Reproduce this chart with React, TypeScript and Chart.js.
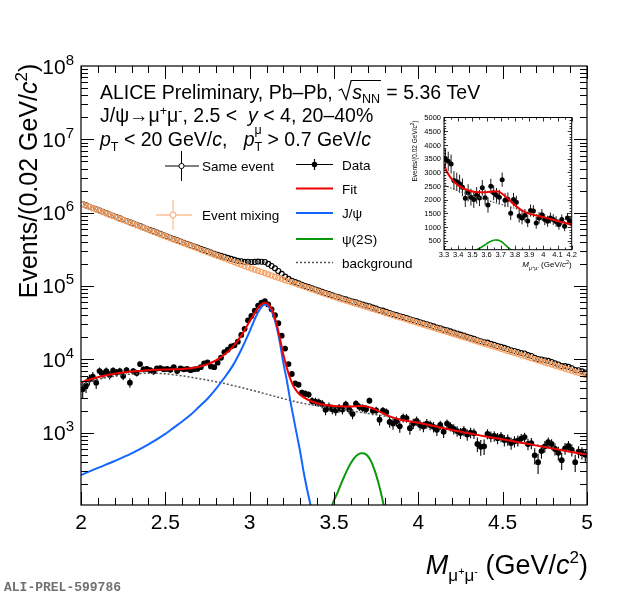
import React, { useEffect, useRef } from "react";
import { Chart, registerables } from "chart.js";

Chart.register(...registerables);

const FONT = "'Liberation Sans', Arimo, Arial, Helvetica, sans-serif";
const MONO = "'Liberation Mono', 'DejaVu Sans Mono', monospace";

// ---------------- binning ----------------
const BIN_LOW = 2.0;
const BIN_WIDTH = 0.02;

// ---------------- main-panel data (150 bins, 2.00–5.00 GeV/c^2) ----------------
const SAME_EVENT = [
  1307000, 1255000, 1205000, 1158000, 1110000, 1067000, 1024000, 984000, 943000, 906000,
  870000, 835000, 801000, 770000, 737000, 709000, 681000, 656000, 628000, 603000,
  578000, 555000, 534000, 513000, 492000, 472000, 454000, 438000, 420000, 405000,
  389000, 374000, 360000, 346000, 333000, 321000, 310000, 298000, 286000, 275000,
  266000, 258000, 250000, 242000, 234000, 227000, 220000, 217000, 213000, 214000,
  212000, 213000, 215000, 214000, 212000, 200000, 187000, 174000, 160000, 146000,
  134000, 125000, 118000, 113000, 108500, 104000, 100000, 96600, 92700, 89500,
  86300, 83200, 79900, 77300, 74400, 71900, 69800, 67500, 65700, 63400,
  61100, 59900, 57800, 55900, 54100, 53000, 50700, 49100, 47100, 46100,
  44500, 42700, 41200, 40000, 38600, 37800, 36600, 35100, 34100, 33200,
  32000, 30900, 30000, 29100, 28100, 27100, 26500, 25400, 24900, 24000,
  23200, 22500, 21700, 21100, 20300, 19700, 19100, 18200, 17600, 17100,
  16900, 16300, 15800, 15200, 14800, 14300, 13800, 13300, 13000, 12600,
  12200, 12000, 11400, 11100, 10500, 10100, 9940, 9720, 9520, 9200,
  8820, 8490, 8120, 8060, 7870, 7550, 7150, 7080, 6850, 6610,
];

const MIXED_EVENT = [
  1303000, 1251000, 1200000, 1152000, 1105000, 1060000, 1018000, 977000, 937000, 899000,
  863000, 828000, 795000, 763000, 732000, 702000, 674000, 647000, 621000, 596000,
  571000, 548000, 526000, 505000, 485000, 465000, 447000, 430000, 413000, 397000,
  382000, 367000, 353000, 339000, 326000, 313000, 301000, 289000, 278000, 267000,
  257000, 247000, 237000, 228000, 219000, 211000, 203000, 195000, 187000, 180000,
  173000, 167000, 161000, 155000, 150000, 144000, 139000, 134000, 129000, 125000,
  120000, 116000, 112000, 108000, 104000, 100400, 96800, 93300, 90000, 86800,
  83700, 80700, 77800, 75000, 72300, 69900, 67600, 65400, 63300, 61300,
  59300, 57400, 55500, 53700, 52000, 50300, 48700, 47100, 45600, 44100,
  42600, 41300, 39900, 38600, 37400, 36200, 35000, 33900, 32800, 31700,
  30700, 29700, 28700, 27800, 26900, 26000, 25200, 24400, 23600, 22800,
  22100, 21400, 20700, 20000, 19400, 18700, 18100, 17500, 17000, 16400,
  15900, 15400, 14900, 14400, 13900, 13500, 13000, 12600, 12200, 11800,
  11400, 11100, 10700, 10350, 10000, 9690, 9380, 9070, 8780, 8500,
  8220, 7960, 7700, 7450, 7210, 6970, 6750, 6530, 6320, 6110,
];

const DATA_SIGNAL = [
  3900, 4400, 5300, 5800, 4800, 6900, 6300, 6900, 6100, 7000,
  6600, 6900, 5900, 7100, 4800, 6900, 6500, 8600, 7300, 7400,
  7100, 6800, 7500, 7600, 7300, 7400, 7200, 7800, 6900, 7500,
  7300, 7400, 7100, 7300, 7400, 7800, 8800, 9100, 8000, 7800,
  9000, 10500, 12500, 13500, 15000, 15500, 17400, 21500, 26000, 34000,
  39000, 46000, 54000, 59000, 62000, 56000, 48000, 40000, 31000, 21000,
  14000, 8600, 6300, 4700, 4500, 3500, 3400, 3300, 2700, 2650,
  2580, 2450, 2050, 2250, 2090, 2000, 2160, 2060, 2430, 2070,
  1800, 2490, 2250, 2160, 2090, 2730, 1980, 2010, 1500, 2000,
  1900, 1400, 1330, 1430, 1220, 1600, 1580, 1150, 1330, 1450,
  1270, 1210, 1330, 1270, 1200, 1090, 1270, 1030, 1330, 1210,
  1120, 1050, 990, 1060, 940, 1000, 980, 700, 640, 650,
  960, 890, 900, 840, 880, 790, 800, 720, 760, 780,
  830, 870, 700, 720, 490, 395, 560, 650, 740, 700,
  600, 530, 420, 610, 660, 580, 395, 550, 530, 500,
];

const DATA_ERR = [
  950, 930, 910, 890, 870, 850, 830, 810, 800, 780,
  770, 750, 740, 720, 710, 700, 690, 680, 660, 650,
  640, 630, 620, 610, 600, 590, 580, 570, 560, 550,
  540, 530, 525, 515, 510, 500, 495, 490, 480, 475,
  470, 465, 460, 460, 455, 455, 450, 455, 460, 470,
  475, 480, 490, 490, 490, 480, 470, 455, 440, 420,
  400, 390, 380, 370, 360, 355, 350, 345, 340, 335,
  330, 325, 320, 315, 310, 305, 300, 295, 290, 285,
  280, 275, 272, 268, 264, 260, 256, 252, 248, 244,
  240, 236, 232, 228, 225, 222, 218, 215, 212, 208,
  205, 202, 199, 196, 193, 190, 187, 184, 181, 178,
  176, 173, 170, 168, 165, 163, 160, 158, 156, 153,
  151, 149, 147, 145, 143, 141, 139, 137, 135, 133,
  131, 129, 127, 125, 124, 122, 120, 118, 117, 115,
  113, 112, 110, 109, 107, 106, 104, 103, 101, 100,
];

// ---------------- fit components ----------------
const FIT_X = [
  2.0, 2.05, 2.1, 2.15, 2.2, 2.25, 2.3, 2.35, 2.4, 2.45, 2.5, 2.55, 2.6, 2.65, 2.7, 2.75, 2.8, 2.85, 2.9, 2.95,
  3.0, 3.02, 3.04, 3.06, 3.08, 3.09, 3.1, 3.12, 3.14, 3.16, 3.18, 3.2, 3.22, 3.24, 3.26, 3.28, 3.3,
  3.35, 3.4, 3.45, 3.5, 3.55, 3.6, 3.65, 3.68, 3.7, 3.75, 3.8, 3.85, 3.9, 3.95, 4.0, 4.05, 4.1, 4.15, 4.2,
  4.3, 4.4, 4.5, 4.6, 4.7, 4.8, 4.9, 5.0,
];
const FIT_Y = [
  4850, 5300, 5700, 6050, 6350, 6600, 6800, 6950, 7080, 7180, 7250, 7300, 7380, 7550, 7900, 8600, 9700, 11600, 14800, 21000,
  33000, 39000, 46500, 54000, 58500, 59000, 58500, 53000, 43000, 30000, 19000, 11500, 7700, 5500, 4300, 3650, 3250,
  2780, 2520, 2380, 2300, 2270, 2270, 2300, 2300, 2250, 2040, 1790, 1600, 1490, 1420, 1360, 1290, 1220, 1150, 1085,
  980, 885, 810, 735, 665, 605, 550, 500,
];

const JPSI_X = [
  2.0, 2.1, 2.2, 2.3, 2.4, 2.5, 2.55, 2.6, 2.65, 2.7, 2.75, 2.8, 2.85, 2.9, 2.95,
  3.0, 3.02, 3.04, 3.06, 3.08, 3.09, 3.1, 3.12, 3.14, 3.16, 3.18, 3.2,
  3.22, 3.24, 3.26, 3.28, 3.3, 3.32, 3.34, 3.36, 3.38,
];
const JPSI_Y = [
  264, 330, 410, 520, 690, 960, 1170, 1420, 1750, 2250, 2900, 3950, 5600, 8200, 13500,
  24000, 31000, 39500, 48000, 54500, 56000, 55500, 50000, 40000, 27500, 16500, 8800,
  5200, 2800, 1600, 930, 540, 290, 170, 105, 62,
];

const PSI2S_X = [3.48, 3.5, 3.52, 3.54, 3.56, 3.58, 3.6, 3.62, 3.64, 3.66, 3.68, 3.7, 3.72, 3.74, 3.76, 3.78, 3.8];
const PSI2S_Y = [90, 120, 150, 195, 250, 315, 385, 450, 500, 525, 520, 480, 405, 310, 220, 145, 90];

const BKG_X = [
  2.0, 2.1, 2.2, 2.3, 2.4, 2.5, 2.6, 2.7, 2.8, 2.9, 3.0, 3.1, 3.2, 3.3, 3.4, 3.5,
  3.6, 3.7, 3.8, 3.9, 4.0, 4.1, 4.2, 4.3, 4.4, 4.5, 4.6, 4.7, 4.8, 4.9, 5.0,
];
const BKG_Y = [
  4500, 5300, 5900, 6300, 6450, 6350, 5950, 5450, 4950, 4400, 3850, 3350, 2900, 2550, 2320, 2150,
  1980, 1830, 1680, 1530, 1360, 1210, 1080, 980, 890, 810, 740, 680, 620, 560, 505,
];

// ---------------- axes ----------------
const X_MIN = 2, X_MAX = 5;
const Y_MIN = 103, Y_MAX = 1e8;
const X_TICK_LABELS = [2, 2.5, 3, 3.5, 4, 4.5, 5];
const Y_DECADES = [3, 4, 5, 6, 7, 8];

const IN_X_MIN = 3.3, IN_X_MAX = 4.2;
const IN_Y_MIN = 170, IN_Y_MAX = 5000;
const IN_X_LABELS = ["3.3", "3.4", "3.5", "3.6", "3.7", "3.8", "3.9", "4", "4.1", "4.2"];
const IN_Y_LABELS = [500, 1000, 1500, 2000, 2500, 3000, 3500, 4000, 4500, 5000];

// ---------------- colours ----------------
const RED = "#f00000";
const BLUE = "#1466ff";
const GREEN = "#0a990a";
const ORANGE = "rgb(245,160,98)";
const ORANGE_LEG = "rgba(247,172,118,0.75)";
const DOT = "#555555";

const binCenters = DATA_SIGNAL.map((_, i) => +(BIN_LOW + BIN_WIDTH * (i + 0.5)).toFixed(3));
const toPts = (xs: number[], ys: number[]) => xs.map((x, i) => ({ x, y: ys[i] }));

type Seg = { t: string; s?: number; it?: boolean; dy?: number; noAdv?: boolean };

function segFont(s: Seg, base: number) {
  return `${s.it ? "italic " : ""}${s.s ?? base}px ${FONT}`;
}

function drawRich(ctx: CanvasRenderingContext2D, x: number, y: number, segs: Seg[], base: number, align = "left") {
  const ws = segs.map((s) => {
    ctx.font = segFont(s, base);
    return s.noAdv ? 0 : ctx.measureText(s.t).width;
  });
  const total = ws.reduce((p, c) => p + c, 0);
  let cx = align === "left" ? x : align === "right" ? x - total : x - total / 2;
  ctx.textAlign = "left";
  ctx.textBaseline = "alphabetic";
  segs.forEach((s, i) => {
    ctx.font = segFont(s, base);
    ctx.fillText(s.t, cx, y + (s.dy || 0));
    cx += ws[i];
  });
  return cx;
}

function drawErrors(chart: any, lw: number) {
  const { ctx, chartArea: a } = chart;
  const xs = chart.scales.x, ys = chart.scales.y;
  ctx.save();
  ctx.beginPath();
  ctx.rect(a.left, a.top, a.right - a.left, a.bottom - a.top);
  ctx.clip();
  ctx.strokeStyle = "#000";
  ctx.lineWidth = lw;
  ctx.beginPath();
  binCenters.forEach((xc, i) => {
    const px = xs.getPixelForValue(xc);
    if (px < a.left - 4 || px > a.right + 4) return;
    const v = DATA_SIGNAL[i], e = DATA_ERR[i];
    const y1 = ys.getPixelForValue(v + e);
    const lo = v - e;
    const y2 = lo > 0 ? ys.getPixelForValue(lo) : a.bottom + 10;
    ctx.moveTo(px, y1);
    ctx.lineTo(px, y2);
  });
  ctx.stroke();
  ctx.restore();
}

const errorPlugin = (lw: number) => ({
  id: "errbars",
  beforeDatasetDraw(chart: any, args: any) {
    if (chart.data.datasets[args.index].label === "Data") drawErrors(chart, lw);
  },
});

function drawMainDecor(chart: any) {
  const { ctx, chartArea: a } = chart;
  const xs = chart.scales.x, ys = chart.scales.y;
  ctx.save();
  ctx.fillStyle = "#000";
  ctx.strokeStyle = "#000";

  // ticks
  ctx.lineWidth = 1;
  ctx.beginPath();
  for (let i = 0; i <= 30; i++) {
    const v = X_MIN + i * 0.1;
    const px = Math.round(xs.getPixelForValue(v)) + 0.5;
    const len = i % 5 === 0 ? 13 : 7;
    ctx.moveTo(px, a.bottom);
    ctx.lineTo(px, a.bottom - len);
    ctx.moveTo(px, a.top);
    ctx.lineTo(px, a.top + len);
  }
  for (let k = 2; k <= 7; k++) {
    for (let m = 1; m <= 9; m++) {
      const v = m * Math.pow(10, k);
      if (v < Y_MIN || v >= Y_MAX) continue;
      const py = Math.round(ys.getPixelForValue(v)) + 0.5;
      const len = m === 1 ? 13 : 7;
      ctx.moveTo(a.left, py);
      ctx.lineTo(a.left + len, py);
      ctx.moveTo(a.right, py);
      ctx.lineTo(a.right - len, py);
    }
  }
  ctx.stroke();
  ctx.lineWidth = 1.2;
  ctx.strokeRect(a.left, a.top, a.right - a.left, a.bottom - a.top);

  // x tick labels
  ctx.font = `21px ${FONT}`;
  ctx.textAlign = "center";
  ctx.textBaseline = "alphabetic";
  X_TICK_LABELS.forEach((v) => ctx.fillText(String(v), xs.getPixelForValue(v), 529));

  // y tick labels
  Y_DECADES.forEach((k) => {
    const py = ys.getPixelForValue(Math.pow(10, k));
    drawRich(ctx, 74, py + 7.5, [{ t: "10" }, { t: String(k), s: 15, dy: -9 }], 21, "right");
  });

  // axis titles
  drawRich(
    ctx, 588, 574,
    [
      { t: "M", it: true },
      { t: "μ", s: 17, dy: 7 },
      { t: "+", s: 11, dy: 1 },
      { t: "μ", s: 17, dy: 7 },
      { t: "-", s: 11, dy: 1 },
      { t: " (GeV/" },
      { t: "c", it: true },
      { t: "2", s: 17, dy: -11 },
      { t: ")" },
    ],
    27, "right"
  );
  ctx.save();
  ctx.translate(37, 181);
  ctx.rotate(-Math.PI / 2);
  drawRich(ctx, 0, 0, [{ t: "Events/(0.02 GeV/" }, { t: "c", it: true }, { t: "2", s: 17, dy: -10 }, { t: ")" }], 25, "center");
  ctx.restore();

  // header text
  const e1 = drawRich(ctx, 100, 98.5, [{ t: "ALICE Preliminary, Pb–Pb," }], 19.5);
  const x0 = e1 + 6;
  const sx = x0 + 13.5;
  const e2 = drawRich(ctx, sx, 98.5, [{ t: "s", it: true }, { t: "NN", s: 12.5, dy: 4.5 }], 19.5);
  ctx.lineWidth = 1.2;
  ctx.beginPath();
  ctx.moveTo(x0, 90.5);
  ctx.lineTo(x0 + 3, 89);
  ctx.lineTo(x0 + 7.5, 99.5);
  ctx.lineTo(x0 + 12.5, 80.5);
  ctx.lineTo(e2 + 1, 80.5);
  ctx.stroke();
  drawRich(ctx, e2 + 1, 98.5, [{ t: " = 5.36 TeV" }], 19.5);

  drawRich(
    ctx, 100, 122,
    [
      { t: "J/ψ→μ" },
      { t: "+", s: 12.5, dy: -7 },
      { t: "μ" },
      { t: "-", s: 12.5, dy: -7 },
      { t: ", 2.5 <  " },
      { t: "y", it: true },
      { t: " < 4, 20–40%" },
    ],
    19.5
  );
  drawRich(
    ctx, 100, 145.5,
    [
      { t: "p", it: true },
      { t: "T", s: 12.5, dy: 5 },
      { t: " < 20 GeV/" },
      { t: "c", it: true },
      { t: ",   " },
      { t: "p", it: true },
      { t: "μ", s: 12.5, dy: -12, noAdv: true },
      { t: "T", s: 12.5, dy: 5 },
      { t: " > 0.7 GeV/" },
      { t: "c", it: true },
    ],
    19.5
  );

  // legend
  ctx.lineWidth = 1;
  ctx.strokeStyle = "#000";
  ctx.beginPath();
  ctx.moveTo(165, 166); ctx.lineTo(199, 166);
  ctx.moveTo(181.5, 151); ctx.lineTo(181.5, 181);
  ctx.stroke();
  ctx.fillStyle = "#fff";
  ctx.beginPath(); ctx.arc(181.5, 166, 2.6, 0, Math.PI * 2); ctx.fill(); ctx.stroke();
  ctx.strokeStyle = ORANGE_LEG;
  ctx.lineWidth = 1.3;
  ctx.beginPath();
  ctx.moveTo(156, 215); ctx.lineTo(192, 215);
  ctx.moveTo(173, 200); ctx.lineTo(173, 230);
  ctx.stroke();
  ctx.beginPath(); ctx.arc(173, 215, 2.8, 0, Math.PI * 2); ctx.fill(); ctx.stroke();

  ctx.fillStyle = "#000";
  ctx.font = `13.5px ${FONT}`;
  ctx.textAlign = "left";
  ctx.fillText("Same event", 202, 171);
  ctx.fillText("Event mixing", 202, 220);

  ctx.strokeStyle = "#000";
  ctx.lineWidth = 1.2;
  ctx.beginPath();
  ctx.moveTo(296, 164.5); ctx.lineTo(333, 164.5);
  ctx.moveTo(314.5, 159); ctx.lineTo(314.5, 170);
  ctx.stroke();
  ctx.beginPath(); ctx.arc(314.5, 164.5, 2.8, 0, Math.PI * 2); ctx.fill();
  const lines: [string, number, number[]][] = [
    [RED, 188.5, []],
    [BLUE, 213, []],
    [GREEN, 239, []],
    [DOT, 262.5, [2, 2]],
  ];
  lines.forEach(([c, y, dash]) => {
    ctx.strokeStyle = c;
    ctx.lineWidth = dash.length ? 1.5 : 2;
    ctx.setLineDash(dash);
    ctx.beginPath(); ctx.moveTo(296, y); ctx.lineTo(333, y); ctx.stroke();
  });
  ctx.setLineDash([]);
  ctx.fillStyle = "#000";
  ctx.fillText("Data", 342, 169.5);
  ctx.fillText("Fit", 342, 193.5);
  ctx.fillText("J/ψ", 342, 218);
  ctx.fillText("ψ(2S)", 342, 244);
  ctx.fillText("background", 342, 267.5);

  ctx.font = `bold 13px ${MONO}`;
  ctx.fillStyle = "#707070";
  ctx.fillText("ALI-PREL-599786", 4, 591);
  ctx.restore();
}

function drawInsetDecor(chart: any) {
  const { ctx, chartArea: a } = chart;
  const xs = chart.scales.x, ys = chart.scales.y;
  ctx.save();
  ctx.strokeStyle = "#000";
  ctx.fillStyle = "#000";
  ctx.lineWidth = 0.8;
  ctx.beginPath();
  for (let i = 0; i <= 18; i++) {
    const v = IN_X_MIN + i * 0.05;
    const px = Math.round(xs.getPixelForValue(v)) + 0.5;
    const len = i % 2 === 0 ? 4 : 2.2;
    ctx.moveTo(px, a.bottom); ctx.lineTo(px, a.bottom - len);
    ctx.moveTo(px, a.top); ctx.lineTo(px, a.top + len);
  }
  for (let v = 200; v < IN_Y_MAX; v += 100) {
    const py = Math.round(ys.getPixelForValue(v)) + 0.5;
    const len = v % 500 === 0 ? 4 : 2.2;
    ctx.moveTo(a.left, py); ctx.lineTo(a.left + len, py);
    ctx.moveTo(a.right, py); ctx.lineTo(a.right - len, py);
  }
  ctx.stroke();
  ctx.lineWidth = 1;
  ctx.strokeRect(a.left, a.top, a.right - a.left, a.bottom - a.top);

  ctx.font = `7.5px ${FONT}`;
  ctx.textAlign = "center";
  IN_X_LABELS.forEach((l) => ctx.fillText(l, xs.getPixelForValue(parseFloat(l)), 153));
  ctx.textAlign = "right";
  IN_Y_LABELS.forEach((v) => ctx.fillText(String(v), 41, ys.getPixelForValue(v) + 2.7));

  drawRich(
    ctx, 171.7, 163,
    [
      { t: "M", it: true },
      { t: "μ", s: 5.5, dy: 2.5 },
      { t: "+", s: 4, dy: 0.5 },
      { t: "μ", s: 5.5, dy: 2.5 },
      { t: "-", s: 4, dy: 0.5 },
      { t: " (GeV/" },
      { t: "c", it: true },
      { t: "2", s: 5.5, dy: -3.5 },
      { t: ")" },
    ],
    8, "right"
  );
  ctx.save();
  ctx.translate(17, 47);
  ctx.rotate(-Math.PI / 2);
  drawRich(ctx, 0, 0, [{ t: "Events/(0.02 GeV/" }, { t: "c", it: true }, { t: "2", s: 4.5, dy: -2.6 }, { t: ")" }], 6.5, "center");
  ctx.restore();
  ctx.restore();
}

function lineDs(label: string, xs: number[], ys: number[], color: string, width: number, dash: number[] = []) {
  return {
    label,
    data: toPts(xs, ys),
    borderColor: color,
    borderWidth: width,
    borderDash: dash,
    pointRadius: 0,
    fill: false,
    tension: 0.4,
    cubicInterpolationMode: "monotone",
  };
}

function markerDs(label: string, ys: number[], r: number, fillC: string, strokeC: string, bw: number) {
  return {
    label,
    data: toPts(binCenters, ys),
    showLine: false,
    pointRadius: r,
    pointBackgroundColor: fillC,
    pointBorderColor: strokeC,
    pointBorderWidth: bw,
  };
}

export default function App() {
  const mainRef = useRef<HTMLCanvasElement>(null);
  const insetRef = useRef<HTMLCanvasElement>(null);

  useEffect(() => {
    const main = new Chart(mainRef.current as HTMLCanvasElement, {
      type: "line",
      data: {
        datasets: [
          lineDs("Fit", FIT_X, FIT_Y, RED, 2),
          lineDs("J/psi", JPSI_X, JPSI_Y, BLUE, 2),
          lineDs("psi(2S)", PSI2S_X, PSI2S_Y, GREEN, 2),
          lineDs("background", BKG_X, BKG_Y, DOT, 1.5, [2, 2]),
          markerDs("Data", DATA_SIGNAL, 2.9, "#000", "#000", 0),
          markerDs("Event mixing", MIXED_EVENT, 2.5, "rgba(0,0,0,0)", ORANGE, 1.2),
          markerDs("Same event", SAME_EVENT, 2.5, "rgba(0,0,0,0)", "#000", 1.1),
        ] as any,
      },
      options: {
        animation: false,
        responsive: false,
        events: [],
        layout: { padding: { left: 81, top: 66, right: 33, bottom: 92 } },
        scales: {
          x: { type: "linear", min: X_MIN, max: X_MAX, display: false },
          y: { type: "logarithmic", min: Y_MIN, max: Y_MAX, display: false },
        },
        plugins: { legend: { display: false }, tooltip: { enabled: false } },
      } as any,
      plugins: [errorPlugin(1.1), { id: "mainDecor", afterDraw: drawMainDecor }] as any,
    });

    const inset = new Chart(insetRef.current as HTMLCanvasElement, {
      type: "line",
      data: {
        datasets: [
          lineDs("Fit", FIT_X, FIT_Y, RED, 2),
          lineDs("psi(2S)", PSI2S_X, PSI2S_Y, GREEN, 1.6),
          lineDs("background", BKG_X, BKG_Y, DOT, 1.2, [1.5, 1.5]),
          markerDs("Data", DATA_SIGNAL, 2.5, "#000", "#000", 0),
        ] as any,
      },
      options: {
        animation: false,
        responsive: false,
        events: [],
        layout: { padding: { left: 44, top: 13.5, right: 18.3, bottom: 24.3 } },
        scales: {
          x: { type: "linear", min: IN_X_MIN, max: IN_X_MAX, display: false },
          y: { type: "linear", min: IN_Y_MIN, max: IN_Y_MAX, display: false },
        },
        plugins: { legend: { display: false }, tooltip: { enabled: false } },
      } as any,
      plugins: [errorPlugin(0.9), { id: "insetDecor", afterDraw: drawInsetDecor }] as any,
    });

    return () => {
      main.destroy();
      inset.destroy();
    };
  }, []);

  return (
    <div style={{ position: "absolute", left: 0, top: 0, width: 620, height: 597, background: "#fff" }}>
      <canvas ref={mainRef} width={620} height={597} style={{ position: "absolute", left: 0, top: 0 }} />
      <canvas ref={insetRef} width={190} height={170} style={{ position: "absolute", left: 400, top: 104 }} />
    </div>
  );
}
